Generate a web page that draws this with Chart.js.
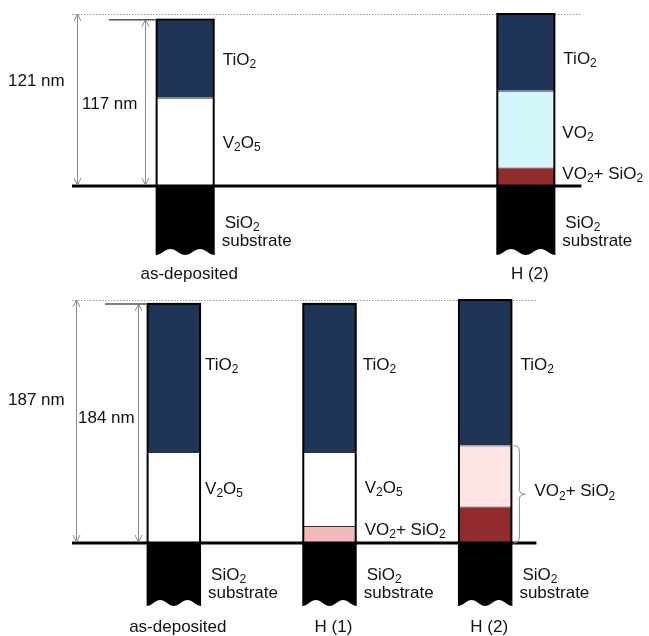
<!DOCTYPE html>
<html>
<head>
<meta charset="utf-8">
<script src="https://cdn.jsdelivr.net/npm/chart.js@4/dist/chart.umd.min.js"></script>
<style>
  html, body { margin: 0; padding: 0; background: #fff; width: 649px; height: 636px; overflow: hidden; }
  canvas { position: absolute; left: 0; }
  #topPanel { top: 0; }
  #bottomPanel { top: 290px; }
</style>
</head>
<body>
<canvas id="topPanel" width="649" height="290"></canvas>
<canvas id="bottomPanel" width="649" height="346"></canvas>
<script>
// Layer thicknesses in nm, listed from the substrate upward.
const topSamples = ['as-deposited', '', 'H (2)'];
const topVO2SiO2 = [null, null, 13];
const topVO2 = [null, null, 54];
const topV2O5 = [62, null, null];
const topTiO2 = [55, null, 54];
const topTotals = [117, null, 121];
const topDimensions = [121, 117];

const bottomSamples = ['as-deposited', 'H (1)', 'H (2)'];
const bottomVO2SiO2Dark = [null, null, 28];
const bottomVO2SiO2Pink = [null, 13, null];
const bottomVO2SiO2Light = [null, null, 47];
const bottomV2O5 = [70, 57, null];
const bottomTiO2 = [114, 114, 112];
const bottomTotals = [184, 184, 187];
const bottomDimensions = [187, 184];

const COLORS = {
  tio2: '#1f3558',
  v2o5: '#ffffff',
  vo2: '#d3f6fb',
  mixDark: '#922b2b',
  mixPink: '#f3b8bc',
  mixLight: '#fde3e3'
};
const MAIN_FONT = '17px "Liberation Sans", Arial, sans-serif';
const SUB_FONT = '12px "Liberation Sans", Arial, sans-serif';
const TEXT_COLOR = '#111';

// Split a formula so that digits following an element symbol become subscripts.
function chemRuns(text) {
  const runs = [];
  let prevLetter = false, prevSub = false;
  for (const ch of text) {
    const isDigit = /\d/.test(ch);
    const sub = isDigit && (prevLetter || prevSub);
    const last = runs[runs.length - 1];
    if (last && last.sub === sub) last.t += ch; else runs.push({ t: ch, sub });
    prevLetter = /[A-Za-z]/.test(ch);
    prevSub = sub;
  }
  return runs;
}

function drawText(ctx, text, x, y, align) {
  const runs = chemRuns(text);
  let w = 0;
  runs.forEach(r => { ctx.font = r.sub ? SUB_FONT : MAIN_FONT; r.w = ctx.measureText(r.t).width; w += r.w; });
  let cx = align === 'center' ? x - w / 2 : x;
  ctx.textAlign = 'left';
  ctx.textBaseline = 'middle';
  ctx.fillStyle = TEXT_COLOR;
  runs.forEach(r => {
    ctx.font = r.sub ? SUB_FONT : MAIN_FONT;
    ctx.fillText(r.t, cx, r.sub ? y + 5 : y);
    cx += r.w;
  });
}

function arrowHead(ctx, x, y, dir) {
  ctx.beginPath();
  ctx.moveTo(x - 3.5, y + dir * 7);
  ctx.lineTo(x, y);
  ctx.lineTo(x + 3.5, y + dir * 7);
  ctx.stroke();
}

function dimensionArrow(ctx, x, yTop, yBottom) {
  ctx.save();
  ctx.strokeStyle = '#8a8a8a';
  ctx.lineWidth = 1;
  ctx.beginPath();
  ctx.moveTo(x + 0.5, yTop);
  ctx.lineTo(x + 0.5, yBottom);
  ctx.stroke();
  arrowHead(ctx, x + 0.5, yTop, 1);
  arrowHead(ctx, x + 0.5, yBottom, -1);
  ctx.restore();
}

// Find the drawn bar of a category to get its horizontal extent.
function barOf(chart, index) {
  for (let d = 0; d < chart.data.datasets.length; d++) {
    const v = chart.data.datasets[d].data[index];
    if (v !== null && v !== undefined) return chart.getDatasetMeta(d).data[index];
  }
  return null;
}

const stackPlugin = {
  id: 'stackPlugin',
  afterDatasetsDraw(chart, args, opts) {
    const ctx = chart.ctx;
    const x = chart.scales.x, y = chart.scales.y;
    const zero = y.getPixelForValue(0);
    const totals = opts.totals;
    const lastBar = barOf(chart, totals.length - 1);
    const guideRight = lastBar.x + lastBar.width / 2 + opts.guideOverhang;

    ctx.save();
    // dotted reference line at the thickest stack
    const yMax = y.getPixelForValue(y.max);
    ctx.strokeStyle = '#9a9a9a';
    ctx.lineWidth = 1;
    ctx.setLineDash([1.5, 1.5]);
    ctx.beginPath();
    ctx.moveTo(opts.guideLeft, yMax + 0.5);
    ctx.lineTo(guideRight, yMax + 0.5);
    ctx.stroke();
    ctx.setLineDash([]);

    totals.forEach((total, i) => {
      if (total === null) return;
      const bar = barOf(chart, i);
      const left = bar.x - bar.width / 2, right = bar.x + bar.width / 2;
      const top = y.getPixelForValue(total);

      // substrate with a wavy cut at the bottom
      const base = zero + opts.substrateDepth;
      ctx.fillStyle = '#000';
      ctx.beginPath();
      ctx.moveTo(left - 1, zero);
      ctx.lineTo(right + 1, zero);
      ctx.lineTo(right + 1, base + 3);
      for (let k = 0; k <= 40; k++) {
        const t = 1 - k / 40;
        const px = left - 1 + t * (bar.width + 2);
        const py = base + 3 * Math.cos(2 * Math.PI * 2 * t);
        ctx.lineTo(px, py);
      }
      ctx.closePath();
      ctx.fill();

      // outline of the film stack
      ctx.strokeStyle = '#000';
      ctx.lineWidth = 2;
      ctx.strokeRect(left, top, bar.width, zero - top);

      // substrate and sample names
      drawText(ctx, 'SiO2', right + 11, zero + opts.substrateLabelDy[0]);
      drawText(ctx, 'substrate', right + 8, zero + opts.substrateLabelDy[1]);
      const name = x.getLabelForValue(i);
      if (name) drawText(ctx, name, bar.x + 4, zero + opts.nameDy, 'center');
    });

    // substrate surface line
    ctx.strokeStyle = '#000';
    ctx.lineWidth = 3;
    ctx.beginPath();
    ctx.moveTo(opts.guideLeft, zero);
    ctx.lineTo(guideRight, zero);
    ctx.stroke();

    // overall thickness arrows
    opts.dimensions.forEach(d => {
      const yTop = y.getPixelForValue(d.value);
      dimensionArrow(ctx, d.x, yTop, zero - 1);
      if (d.tickFrom !== undefined) {
        const bar = barOf(chart, d.tickTo);
        ctx.strokeStyle = '#555';
        ctx.lineWidth = 1.5;
        ctx.beginPath();
        ctx.moveTo(d.tickFrom, yTop);
        ctx.lineTo(bar.x - bar.width / 2, yTop);
        ctx.stroke();
      }
      drawText(ctx, d.value + ' nm', d.labelX, d.labelY);
    });

    // layer names
    opts.layerLabels.forEach(l => {
      const bar = barOf(chart, l.i);
      drawText(ctx, l.text, bar.x + bar.width / 2 + l.dx, y.getPixelForValue(l.at));
    });

    // brace grouping mixed layers
    if (opts.brace) {
      const b = opts.brace;
      const bar = barOf(chart, b.i);
      const x0 = bar.x + bar.width / 2 + 2;
      const y0 = y.getPixelForValue(b.to), y1 = y.getPixelForValue(b.from);
      const ym = (y0 + y1) / 2, w = 12;
      ctx.strokeStyle = '#8a8a8a';
      ctx.lineWidth = 1;
      ctx.beginPath();
      ctx.moveTo(x0, y0);
      ctx.quadraticCurveTo(x0 + w / 2, y0, x0 + w / 2, y0 + 6);
      ctx.lineTo(x0 + w / 2, ym - 5);
      ctx.quadraticCurveTo(x0 + w / 2, ym, x0 + w, ym);
      ctx.quadraticCurveTo(x0 + w / 2, ym, x0 + w / 2, ym + 5);
      ctx.lineTo(x0 + w / 2, y1 - 6);
      ctx.quadraticCurveTo(x0 + w / 2, y1, x0, y1);
      ctx.stroke();
      drawText(ctx, b.text, x0 + w + 9, ym - 3);
    }
    ctx.restore();
  }
};

function layer(data, color) {
  return {
    data,
    backgroundColor: color,
    borderColor: '#333',
    borderWidth: { top: 1, bottom: 0, left: 0, right: 0 },
    borderSkipped: false
  };
}

function panel(id, labels, datasets, yMax, pad, barPct, plugOpts) {
  return new Chart(document.getElementById(id), {
    type: 'bar',
    data: { labels, datasets },
    options: {
      responsive: false,
      animation: false,
      devicePixelRatio: 1,
      layout: { padding: pad },
      datasets: { bar: { barPercentage: barPct, categoryPercentage: 1 } },
      plugins: { legend: { display: false }, tooltip: { enabled: false }, stackPlugin: plugOpts },
      scales: {
        x: { stacked: true, display: false },
        y: { stacked: true, display: false, min: 0, max: yMax }
      }
    },
    plugins: [stackPlugin]
  });
}

panel('topPanel', topSamples, [
  layer(topVO2SiO2, COLORS.mixDark),
  layer(topVO2, COLORS.vo2),
  layer(topV2O5, COLORS.v2o5),
  layer(topTiO2, COLORS.tio2)
], Math.max(...topDimensions), { left: 100, right: 38, top: 14, bottom: 104 }, 0.335, {
  totals: topTotals,
  guideLeft: 72,
  guideOverhang: 27,
  substrateDepth: 66,
  substrateLabelDy: [37, 55],
  nameDy: 88,
  dimensions: [
    { value: topDimensions[0], x: 77, labelX: 8, labelY: 81 },
    { value: topDimensions[1], x: 145, labelX: 82, labelY: 104, tickFrom: 109, tickTo: 0 }
  ],
  layerLabels: [
    { i: 0, at: 88.6, dx: 9, text: 'TiO2' },
    { i: 0, at: 30.2, dx: 9, text: 'V2O5' },
    { i: 2, at: 89.3, dx: 9, text: 'TiO2' },
    { i: 2, at: 37.3, dx: 8, text: 'VO2' },
    { i: 2, at: 8.4, dx: 8, text: 'VO2+ SiO2' }
  ]
});

panel('bottomPanel', bottomSamples, [
  layer(bottomVO2SiO2Dark, COLORS.mixDark),
  layer(bottomVO2SiO2Pink, COLORS.mixPink),
  layer(bottomVO2SiO2Light, COLORS.mixLight),
  layer(bottomV2O5, COLORS.v2o5),
  layer(bottomTiO2, COLORS.tio2)
], Math.max(...bottomDimensions), { left: 96, right: 86, top: 10, bottom: 93 }, 0.337, {
  totals: bottomTotals,
  guideLeft: 72,
  guideOverhang: 25,
  substrateDepth: 60,
  substrateLabelDy: [32, 50],
  nameDy: 84,
  dimensions: [
    { value: bottomDimensions[0], x: 76, labelX: 8, labelY: 110 },
    { value: bottomDimensions[1], x: 138, labelX: 78, labelY: 128, tickFrom: 105, tickTo: 0 }
  ],
  layerLabels: [
    { i: 0, at: 137, dx: 5, text: 'TiO2' },
    { i: 0, at: 41.6, dx: 5, text: 'V2O5' },
    { i: 1, at: 137, dx: 7, text: 'TiO2' },
    { i: 1, at: 42.3, dx: 9, text: 'V2O5' },
    { i: 1, at: 10, dx: 9, text: 'VO2+ SiO2' },
    { i: 2, at: 137, dx: 9, text: 'TiO2' }
  ],
  brace: { i: 2, from: 0, to: bottomVO2SiO2Dark[2] + bottomVO2SiO2Light[2], text: 'VO2+ SiO2' }
});
</script>
</body>
</html>
